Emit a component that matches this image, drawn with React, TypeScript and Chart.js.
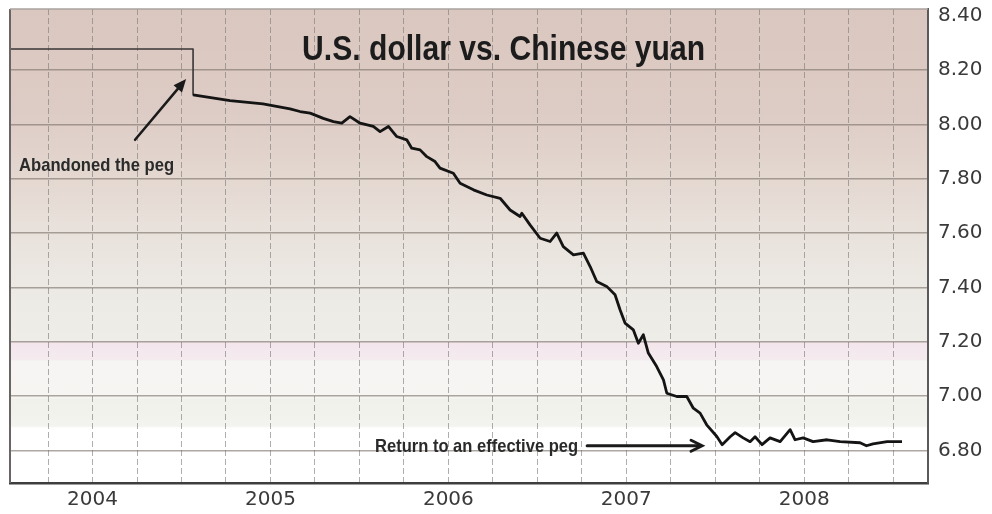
import React, { useEffect, useRef } from 'react';
import { Chart, registerables } from 'chart.js';

Chart.register(...registerables);

// ---- data (x = position in years on the chart's own axis, y = CNY per USD) ----
const yearLabels = [2004, 2005, 2006, 2007, 2008];
const quarterTicks = [
  2003.75, 2004, 2004.25, 2004.5, 2004.75, 2005, 2005.25, 2005.5, 2005.75, 2006,
  2006.25, 2006.5, 2006.75, 2007, 2007.25, 2007.5, 2007.75, 2008, 2008.25, 2008.5,
];
const rateTicks = [6.8, 7.0, 7.2, 7.4, 7.6, 7.8, 8.0, 8.2, 8.4];

const dates = [
  2003.536, 2004.565, 2004.565, 2004.773, 2004.958, 2005.11, 2005.166, 2005.223, 2005.297, 2005.354,
  2005.401, 2005.447, 2005.504, 2005.578, 2005.616, 2005.663, 2005.71, 2005.766, 2005.794, 2005.841,
  2005.879, 2005.925, 2005.953, 2006.028, 2006.066, 2006.141, 2006.216, 2006.291, 2006.347, 2006.403,
  2006.413, 2006.459, 2006.516, 2006.572, 2006.609, 2006.646, 2006.703, 2006.759, 2006.797, 2006.834,
  2006.89, 2006.937, 2006.965, 2006.993, 2007.04, 2007.068, 2007.096, 2007.124, 2007.171, 2007.209,
  2007.228, 2007.284, 2007.34, 2007.377, 2007.415, 2007.452, 2007.509, 2007.539, 2007.584, 2007.612,
  2007.657, 2007.696, 2007.724, 2007.763, 2007.808, 2007.865, 2007.921, 2007.949, 2007.994, 2008.05,
  2008.129, 2008.202, 2008.314, 2008.35, 2008.387, 2008.466, 2008.55,
];
const rates = [
  8.277, 8.277, 8.108, 8.087, 8.075, 8.057, 8.047, 8.041, 8.022, 8.01,
  8.004, 8.028, 8.004, 7.992, 7.973, 7.992, 7.955, 7.943, 7.912, 7.906,
  7.881, 7.863, 7.839, 7.82, 7.783, 7.759, 7.74, 7.728, 7.685, 7.661,
  7.673, 7.63, 7.581, 7.569, 7.6, 7.55, 7.52, 7.526, 7.477, 7.422,
  7.404, 7.373, 7.318, 7.269, 7.244, 7.195, 7.226, 7.159, 7.109, 7.06,
  7.011, 6.999, 6.999, 6.956, 6.938, 6.895, 6.852, 6.822, 6.851, 6.866,
  6.847, 6.833, 6.851, 6.822, 6.847, 6.833, 6.877, 6.84, 6.847, 6.833,
  6.84, 6.833, 6.829, 6.818, 6.825, 6.833, 6.833,
];

const xMin = 2003.536;
const xMax = 2008.696;
const yMin = 6.681;
const yMax = 8.424;

const chartTitle = 'U.S. dollar vs. Chinese yuan';
const noteAbandon = 'Abandoned the peg';
const noteReturn = 'Return to an effective peg';

// ---- plugins ----
const bandStops: [number, string][] = [
  [0, '#dac7bf'],
  [0.22, '#ddccc5'],
  [0.36, '#e4d8d1'],
  [0.5, '#eae4de'],
  [0.62, '#edebe6'],
  [0.7, '#eeede8'],
  [0.703, '#f3e6ec'],
  [0.74, '#f4ebef'],
  [0.743, '#f6f5f3'],
  [0.82, '#f6f5f2'],
  [0.823, '#f1f1eb'],
  [0.88, '#f3f3ef'],
  [0.884, '#ffffff'],
  [1, '#ffffff'],
];

const bandsPlugin = {
  id: 'bands',
  beforeDraw(chart: any) {
    const { ctx, chartArea: a } = chart;
    const g = ctx.createLinearGradient(0, a.top, 0, a.bottom);
    bandStops.forEach(([o, c]) => g.addColorStop(o, c));
    ctx.save();
    ctx.fillStyle = g;
    ctx.fillRect(a.left, a.top, a.right - a.left, a.bottom - a.top);
    ctx.restore();
  },
};

function scaledText(ctx: CanvasRenderingContext2D, text: string, x: number, y: number, width: number, font: string, color: string) {
  ctx.save();
  ctx.font = font;
  ctx.fillStyle = color;
  ctx.textBaseline = 'alphabetic';
  ctx.textAlign = 'left';
  const w = ctx.measureText(text).width;
  ctx.translate(x, y);
  ctx.scale(width / w, 1);
  ctx.fillText(text, 0, 0);
  ctx.restore();
}

function arrow(ctx: CanvasRenderingContext2D, x1: number, y1: number, x2: number, y2: number, lw: number, len: number, half: number, filled: boolean) {
  const ang = Math.atan2(y2 - y1, x2 - x1);
  const bx = x2 - Math.cos(ang) * len;
  const by = y2 - Math.sin(ang) * len;
  const nx = -Math.sin(ang) * half;
  const ny = Math.cos(ang) * half;
  ctx.save();
  ctx.strokeStyle = '#1a1a1a';
  ctx.fillStyle = '#1a1a1a';
  ctx.lineWidth = lw;
  ctx.lineCap = 'round';
  ctx.beginPath();
  ctx.moveTo(x1, y1);
  ctx.lineTo(filled ? bx : x2 - Math.cos(ang) * 2, filled ? by : y2 - Math.sin(ang) * 2);
  ctx.stroke();
  ctx.beginPath();
  if (filled) {
    ctx.moveTo(x2, y2);
    ctx.lineTo(bx + nx, by + ny);
    ctx.lineTo(bx - nx, by - ny);
    ctx.closePath();
    ctx.fill();
  } else {
    ctx.lineJoin = 'miter';
    ctx.moveTo(bx + nx, by + ny);
    ctx.lineTo(x2, y2);
    ctx.lineTo(bx - nx, by - ny);
    ctx.stroke();
  }
  ctx.restore();
}

const notesPlugin = {
  id: 'notes',
  afterDraw(chart: any) {
    const { ctx, chartArea: a } = chart;
    const xs = chart.scales.x;
    const ys = chart.scales.y;
    const px = (v: number) => xs.getPixelForValue(v);
    const py = (v: number) => ys.getPixelForValue(v);

    // frame (left + top)
    ctx.save();
    ctx.strokeStyle = '#6a6464';
    ctx.lineWidth = 2;
    ctx.beginPath();
    ctx.moveTo(a.left, a.top);
    ctx.lineTo(a.left, a.bottom);
    ctx.stroke();
    ctx.strokeStyle = '#aaa29e';
    ctx.lineWidth = 1.5;
    ctx.beginPath();
    ctx.moveTo(a.left, a.top);
    ctx.lineTo(a.right, a.top);
    ctx.stroke();
    ctx.restore();

    // title
    scaledText(ctx, chartTitle, px(2005.178), py(8.237), px(2007.443) - px(2005.178), 'bold 35px "Liberation Sans", Arial, sans-serif', '#1c1c1c');

    // annotations
    scaledText(ctx, noteAbandon, px(2003.587), py(7.829), px(2004.458) - px(2003.587), 'bold 19px "Liberation Sans", Arial, sans-serif', '#2a2a2a');
    arrow(ctx, px(2004.239), py(7.943), px(2004.526), py(8.167), 2.5, 13, 5.5, true);

    scaledText(ctx, noteReturn, px(2005.588), py(6.796), px(2006.729) - px(2005.588), 'bold 19px "Liberation Sans", Arial, sans-serif', '#2a2a2a');
    arrow(ctx, px(2006.78), py(6.818), px(2007.426), py(6.818), 3, 11, 5.5, false);
  },
};

export default function App() {
  const ref = useRef<HTMLCanvasElement>(null);

  useEffect(() => {
    const canvas = ref.current;
    if (!canvas) return;
    const points = dates.map((d, i) => ({ x: d, y: rates[i] }));
    const tickFont = { family: '"DejaVu Sans", Verdana, sans-serif', size: 20 };

    const chart = new Chart(canvas, {
      type: 'line',
      data: {
        datasets: [
          {
            data: points,
            borderColor: '#141414',
            borderWidth: 2.8,
            pointRadius: 0,
            tension: 0,
            fill: false,
            borderJoinStyle: 'round',
            segment: {
              borderWidth: (c: any) => (c.p1DataIndex <= 2 ? 1.6 : 2.8),
              borderColor: (c: any) => (c.p1DataIndex <= 2 ? '#3a3636' : '#141414'),
            },
          } as any,
        ],
      },
      options: {
        animation: false,
        responsive: false,
        layout: { padding: { left: 10, top: 9, right: 0, bottom: 0 } },
        plugins: {
          legend: { display: false },
          tooltip: { enabled: false },
          title: { display: false },
        },
        scales: {
          x: {
            type: 'linear',
            min: xMin,
            max: xMax,
            afterBuildTicks: (s: any) => {
              s.ticks = quarterTicks.map((v) => ({ value: v }));
            },
            afterFit: (s: any) => {
              s.height = 31;
              s.paddingLeft = 0;
              s.paddingRight = 0;
            },
            ticks: {
              autoSkip: false,
              maxRotation: 0,
              padding: 5,
              font: tickFont,
              color: '#3a3a3a',
              callback: (v: any) => (yearLabels.includes(Number(v)) ? String(v) : ''),
            },
            grid: { color: 'rgba(120,120,120,0.6)', lineWidth: 1, drawTicks: false },
            border: { display: true, color: '#3e3e3e', width: 2.5, dash: [6, 3] },
          },
          y: {
            type: 'linear',
            position: 'right',
            min: yMin,
            max: yMax,
            afterBuildTicks: (s: any) => {
              s.ticks = rateTicks.map((v) => ({ value: v }));
            },
            afterFit: (s: any) => {
              s.width = 64;
              s.paddingTop = 0;
              s.paddingBottom = 0;
            },
            ticks: {
              padding: 10,
              font: tickFont,
              color: '#3a3a3a',
              callback: (v: any) => Number(v).toFixed(2),
            },
            grid: {
              color: (c: any) => (c.tick && c.tick.value > 8.3 ? 'rgba(0,0,0,0)' : 'rgba(120,110,104,0.6)'),
              lineWidth: 1.5,
              drawTicks: false,
            },
            border: { display: true, color: '#5a5a5a', width: 2 },
          },
        },
      } as any,
      plugins: [bandsPlugin, notesPlugin],
    });
    return () => chart.destroy();
  }, []);

  return (
    <div style={{ position: 'fixed', left: 0, top: 0, width: 992, height: 514, background: '#fff' }}>
      <canvas ref={ref} width={992} height={514} style={{ display: 'block' }} />
    </div>
  );
}
